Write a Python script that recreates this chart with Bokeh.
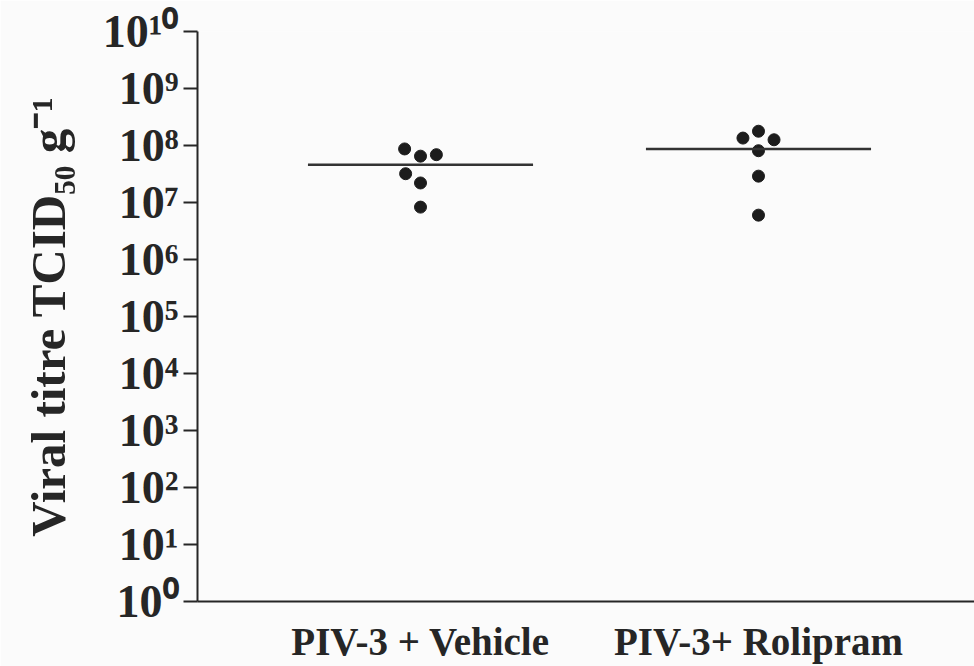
from bokeh.plotting import figure
from bokeh.models import Range1d, FixedTicker, CustomJSTickFormatter, ColumnDataSource
from bokeh.embed import file_html
from bokeh.resources import INLINE

# ---- data ----
categories = ["PIV-3 + Vehicle", "PIV-3+ Rolipram"]
cat_pos = [1, 2]
vehicle_titre = [8.7e7, 6.5e7, 6.9e7, 3.2e7, 2.2e7, 8.3e6]
vehicle_dodge = [-0.047, 0.0, 0.047, -0.044, 0.0, 0.0]
rolipram_titre = [1.35e8, 1.78e8, 1.26e8, 8.1e7, 2.9e7, 6.0e6]
rolipram_dodge = [-0.046, 0.0, 0.046, 0.0, 0.0, 0.0]
group_mean = [4.6e7, 8.7e7]
y_tick_exponents = list(range(0, 11))

FONT = "Liberation Serif"
INK = "#262626"
BG = "#fbfbfb"

p = figure(width=974, height=666, output_backend="svg", toolbar_location=None,
           y_axis_type="log",
           x_range=Range1d(0.3402, 2.6391), y_range=Range1d(1, 1e10),
           min_border_left=197, min_border_right=0, min_border_top=31, min_border_bottom=65,
           background_fill_color=BG, border_fill_color=BG)
p.outline_line_color = None
p.grid.grid_line_color = None

# points
xs = [cat_pos[0] + d for d in vehicle_dodge] + [cat_pos[1] + d for d in rolipram_dodge]
ys = vehicle_titre + rolipram_titre
src = ColumnDataSource(dict(x=xs, y=ys))
p.scatter("x", "y", source=src, size=12, fill_color="#1c1c1c", line_color="#1c1c1c")

# mean lines
half = 0.333
p.segment(x0=[c - half for c in cat_pos], x1=[c + half for c in cat_pos],
          y0=group_mean, y1=group_mean, line_color="#333333", line_width=2.5)

# y axis
ya = p.yaxis[0]
ya.ticker = FixedTicker(ticks=[10.0 ** e for e in y_tick_exponents], minor_ticks=[])
ya.formatter = CustomJSTickFormatter(code="""
const sup = {'0':'\u2070','1':'\u00b9','2':'\u00b2','3':'\u00b3','4':'\u2074','5':'\u2075','6':'\u2076','7':'\u2077','8':'\u2078','9':'\u2079'};
const e = Math.round(Math.log10(tick));
return '10' + String(e).split('').map(c => sup[c]).join('');
""")
ya.major_tick_out = 14
ya.major_tick_in = 0
ya.minor_tick_out = 0
ya.minor_tick_in = 0
ya.major_tick_line_width = 2
ya.major_tick_line_color = INK
ya.axis_line_width = 2
ya.axis_line_color = INK
ya.major_label_text_font = FONT
ya.major_label_text_font_style = "bold"
ya.major_label_text_font_size = "46px"
ya.major_label_text_color = INK
ya.major_label_standoff = 5
ya.axis_label = "Viral titre TCID\u2085\u2080 g\u207b\u00b9"
ya.axis_label_text_font = FONT
ya.axis_label_text_font_style = "bold"
ya.axis_label_text_font_size = "49px"
ya.axis_label_text_color = INK
ya.axis_label_standoff = 24

# x axis
xa = p.xaxis[0]
xa.ticker = FixedTicker(ticks=cat_pos, minor_ticks=[])
xa.major_label_overrides = {c: lab for c, lab in zip(cat_pos, categories)}
xa.major_tick_out = 0
xa.major_tick_in = 0
xa.minor_tick_out = 0
xa.minor_tick_in = 0
xa.axis_line_width = 2
xa.axis_line_color = INK
xa.major_label_text_font = FONT
xa.major_label_text_font_style = "bold"
xa.major_label_text_font_size = "39px"
xa.major_label_text_color = INK
xa.major_label_standoff = 18

open("out.html", "w").write(file_html(p, INLINE))
